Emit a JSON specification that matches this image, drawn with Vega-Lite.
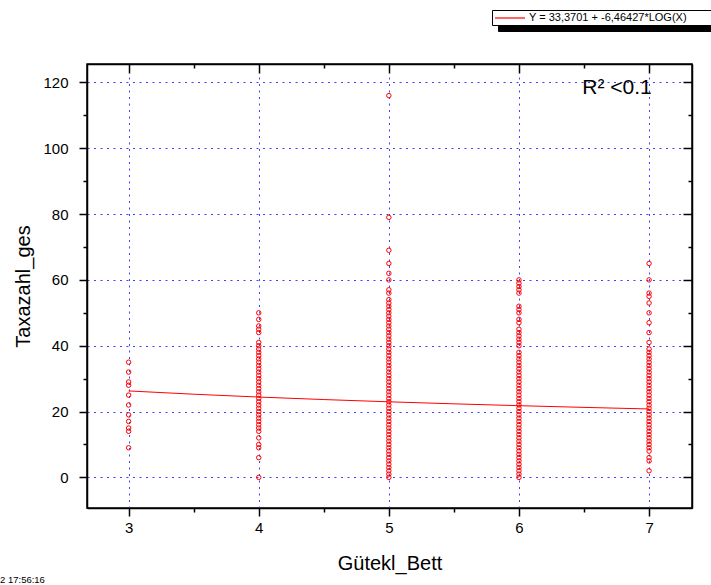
{
  "$schema": "https://vega.github.io/schema/vega-lite/v6.json",
  "width": 605,
  "height": 444,
  "autosize": {"type": "none"},
  "padding": {"left": 87, "top": 64, "right": 19, "bottom": 77},
  "background": "white",
  "title": {"text": "2  17:56:16", "orient": "bottom", "anchor": "start", "frame": "group", "fontSize": 9.5, "fontWeight": "normal", "font": "Liberation Sans", "color": "black", "dx": -87, "offset": 2},
  "config": {
    "font": "Liberation Sans",
    "view": {"stroke": "black", "strokeWidth": 1.5},
    "axis": {
      "labelFont": "Liberation Sans",
      "titleFont": "Liberation Sans",
      "labelColor": "black",
      "titleColor": "black",
      "titleFontWeight": "normal",
      "domainColor": "black",
      "domainWidth": 1.5,
      "tickColor": "black",
      "tickWidth": 1.5,
      "gridColor": "#4040ff",
      "gridDash": [2, 4.5],
      "gridWidth": 1
    }
  },
  "datasets": {
    "pts": [
      {"g":3,"t":35},{"g":3,"t":32},{"g":3,"t":29},{"g":3,"t":28},{"g":3,"t":25},{"g":3,"t":22},{"g":3,"t":19},{"g":3,"t":17},{"g":3,"t":15},{"g":3,"t":14},{"g":3,"t":9},
      {"g":4,"t":50},{"g":4,"t":48},{"g":4,"t":46},{"g":4,"t":45},{"g":4,"t":44},{"g":4,"t":41},
      {"g":4,"t":40},{"g":4,"t":39},{"g":4,"t":38},{"g":4,"t":37},{"g":4,"t":36},{"g":4,"t":35},{"g":4,"t":34},{"g":4,"t":33},{"g":4,"t":32},{"g":4,"t":31},{"g":4,"t":30},{"g":4,"t":29},{"g":4,"t":28},{"g":4,"t":27},{"g":4,"t":26},{"g":4,"t":25},{"g":4,"t":24},{"g":4,"t":23},{"g":4,"t":22},{"g":4,"t":21},{"g":4,"t":20},{"g":4,"t":19},{"g":4,"t":18},{"g":4,"t":17},{"g":4,"t":16},{"g":4,"t":15},{"g":4,"t":14},
      {"g":4,"t":12},{"g":4,"t":10},{"g":4,"t":9},{"g":4,"t":6},{"g":4,"t":0},
      {"g":5,"t":116},{"g":5,"t":79},{"g":5,"t":69},{"g":5,"t":65},{"g":5,"t":62},{"g":5,"t":60},{"g":5,"t":57},{"g":5,"t":56},{"g":5,"t":54},{"g":5,"t":53},{"g":5,"t":52},
      {"g":5,"t":51},{"g":5,"t":50},{"g":5,"t":49},{"g":5,"t":48},{"g":5,"t":47},{"g":5,"t":46},{"g":5,"t":45},{"g":5,"t":44},{"g":5,"t":43},{"g":5,"t":42},{"g":5,"t":41},{"g":5,"t":40},{"g":5,"t":39},{"g":5,"t":38},{"g":5,"t":37},{"g":5,"t":36},{"g":5,"t":35},{"g":5,"t":34},{"g":5,"t":33},{"g":5,"t":32},{"g":5,"t":31},{"g":5,"t":30},{"g":5,"t":29},{"g":5,"t":28},{"g":5,"t":27},{"g":5,"t":26},{"g":5,"t":25},{"g":5,"t":24},{"g":5,"t":23},{"g":5,"t":22},{"g":5,"t":21},{"g":5,"t":20},{"g":5,"t":19},{"g":5,"t":18},{"g":5,"t":17},{"g":5,"t":16},{"g":5,"t":15},{"g":5,"t":14},{"g":5,"t":13},{"g":5,"t":12},{"g":5,"t":11},{"g":5,"t":10},{"g":5,"t":9},{"g":5,"t":8},{"g":5,"t":7},{"g":5,"t":6},{"g":5,"t":5},{"g":5,"t":4},{"g":5,"t":3},{"g":5,"t":2},{"g":5,"t":1},{"g":5,"t":0},
      {"g":6,"t":60},{"g":6,"t":59},{"g":6,"t":58},{"g":6,"t":57},{"g":6,"t":56},{"g":6,"t":52},{"g":6,"t":51},{"g":6,"t":50},{"g":6,"t":48},{"g":6,"t":47},{"g":6,"t":45},{"g":6,"t":44},{"g":6,"t":43},{"g":6,"t":42},{"g":6,"t":41},{"g":6,"t":40},{"g":6,"t":38},
      {"g":6,"t":37},{"g":6,"t":36},{"g":6,"t":35},{"g":6,"t":34},{"g":6,"t":33},{"g":6,"t":32},{"g":6,"t":31},{"g":6,"t":30},{"g":6,"t":29},{"g":6,"t":28},{"g":6,"t":27},{"g":6,"t":26},{"g":6,"t":25},{"g":6,"t":24},{"g":6,"t":23},{"g":6,"t":22},{"g":6,"t":21},{"g":6,"t":20},{"g":6,"t":19},{"g":6,"t":18},{"g":6,"t":17},{"g":6,"t":16},{"g":6,"t":15},{"g":6,"t":14},{"g":6,"t":13},{"g":6,"t":12},{"g":6,"t":11},{"g":6,"t":10},{"g":6,"t":9},{"g":6,"t":8},{"g":6,"t":7},{"g":6,"t":6},{"g":6,"t":5},{"g":6,"t":4},{"g":6,"t":3},{"g":6,"t":2},{"g":6,"t":1},{"g":6,"t":0},
      {"g":7,"t":65},{"g":7,"t":60},{"g":7,"t":56},{"g":7,"t":55},{"g":7,"t":53},{"g":7,"t":50},{"g":7,"t":47},{"g":7,"t":44},{"g":7,"t":41},
      {"g":7,"t":39},{"g":7,"t":38},{"g":7,"t":37},{"g":7,"t":36},{"g":7,"t":35},{"g":7,"t":34},{"g":7,"t":33},{"g":7,"t":32},{"g":7,"t":31},{"g":7,"t":30},{"g":7,"t":29},{"g":7,"t":28},{"g":7,"t":27},{"g":7,"t":26},{"g":7,"t":25},{"g":7,"t":24},{"g":7,"t":23},{"g":7,"t":22},{"g":7,"t":21},{"g":7,"t":20},{"g":7,"t":19},{"g":7,"t":18},{"g":7,"t":17},{"g":7,"t":16},{"g":7,"t":15},{"g":7,"t":14},{"g":7,"t":13},{"g":7,"t":12},{"g":7,"t":11},{"g":7,"t":10},{"g":7,"t":9},{"g":7,"t":8},
      {"g":7,"t":6},{"g":7,"t":5},{"g":7,"t":2}
    ],
    "fit": [
      {"x":3,"y":26.2684},{"x":3.5,"y":25.2719},{"x":4,"y":24.4087},{"x":4.5,"y":23.6473},{"x":5,"y":22.9663},{"x":5.5,"y":22.3501},{"x":6,"y":21.7875},{"x":6.5,"y":21.2702},{"x":7,"y":20.7912}
    ]
  },
  "resolve": {"axis": {"x": "independent", "y": "independent"}},
  "layer": [
    {
      "data": {"name": "pts"},
      "mark": {"type": "point", "filled": false, "stroke": "#ff0000", "strokeWidth": 1, "size": 20, "opacity": 1},
      "encoding": {
        "x": {
          "field": "g", "type": "quantitative",
          "scale": {"domain": [2.68, 7.33], "nice": false, "zero": false},
          "axis": {
            "orient": "bottom",
            "values": [3, 3.5, 4, 4.5, 5, 5.5, 6, 6.5, 7],
            "labelExpr": "datum.value % 1 == 0 ? format(datum.value, 'd') : ''",
            "grid": true,
            "gridOpacity": {"condition": {"test": "datum.value % 1 != 0", "value": 0}, "value": 1},
            "tickSize": {"condition": {"test": "datum.value % 1 != 0", "value": 4}, "value": 8},
            "labelFontSize": 15,
            "labelPadding": 4,
            "title": "Gütekl_Bett",
            "titleFontSize": 20,
            "titlePadding": 18
          }
        },
        "y": {
          "field": "t", "type": "quantitative",
          "scale": {"domain": [-9.3, 125.6], "nice": false, "zero": false},
          "axis": {
            "orient": "left",
            "values": [0, 10, 20, 30, 40, 50, 60, 70, 80, 90, 100, 110, 120],
            "labelExpr": "datum.value % 20 == 0 ? datum.label : ''",
            "grid": true,
            "gridOpacity": {"condition": {"test": "datum.value % 20 != 0", "value": 0}, "value": 1},
            "tickSize": {"condition": {"test": "datum.value % 20 != 0", "value": 4}, "value": 8},
            "labelFontSize": 15,
            "labelPadding": 11,
            "title": "Taxazahl_ges",
            "titleFontSize": 20,
            "titlePadding": 9
          }
        },
        "shape": {
          "datum": "shadow",
          "type": "nominal",
          "scale": {"range": ["circle"]},
          "legend": {
            "orient": "none", "legendX": 411, "legendY": -48,
            "title": null,
            "labelExpr": "'Y = 33,3701 + -6,46427*LOG(X)\u00a0\u00a0\u00a0\u00a0\u00a0\u00a0\u00a0\u00a0\u00a0\u00a0\u00a0\u00a0\u200b'",
            "labelLimit": 400,
            "symbolType": "M-1,0H5", "symbolSize": 100, "symbolOpacity": 0, "symbolStrokeColor": "black",
            "labelFontSize": 11, "labelFont": "Liberation Sans", "labelColor": "black", "labelOffset": 23,
            "strokeColor": "black", "fillColor": "black", "padding": 2
          }
        }
      }
    },
    {
      "data": {"name": "fit"},
      "mark": {"type": "line", "strokeWidth": 1, "color": "#ff0000"},
      "encoding": {
        "x": {
          "field": "x", "type": "quantitative",
          "axis": {
            "orient": "top",
            "values": [3, 3.5, 4, 4.5, 5, 5.5, 6, 6.5, 7],
            "labels": false, "grid": false, "title": null,
            "tickSize": {"condition": {"test": "datum.value % 1 != 0", "value": -4}, "value": -9}
          }
        },
        "y": {
          "field": "y", "type": "quantitative",
          "axis": {
            "orient": "right",
            "values": [0, 10, 20, 30, 40, 50, 60, 70, 80, 90, 100, 110, 120],
            "labels": false, "grid": false, "title": null,
            "tickSize": {"condition": {"test": "datum.value % 20 != 0", "value": -4}, "value": -9}
          }
        },
        "color": {
          "datum": "Y = 33,3701 + -6,46427*LOG(X)\u00a0\u00a0\u00a0\u00a0\u00a0\u00a0\u00a0\u00a0\u00a0\u00a0\u00a0\u00a0\u200b",
          "type": "nominal",
          "scale": {"range": ["#ff0000"]},
          "legend": {
            "orient": "none", "legendX": 405, "legendY": -54,
            "title": null,
            "labelLimit": 400,
            "symbolType": "M-1,0H5", "symbolSize": 100, "symbolStrokeWidth": 1.2, "symbolStrokeColor": "#ff0000",
            "labelFontSize": 11, "labelFont": "Liberation Sans", "labelColor": "black", "labelOffset": 23,
            "strokeColor": "black", "fillColor": "white", "padding": 2,
            "encode": {"symbols": {"update": {"stroke": {"value": "#ff0000"}, "strokeWidth": {"value": 1.2}, "opacity": {"value": 1}}}}
          }
        }
      }
    },
    {
      "data": {"values": [{}]},
      "mark": {"type": "text", "align": "right", "baseline": "middle", "fontSize": 21, "font": "Liberation Sans", "color": "black"},
      "encoding": {
        "x": {"datum": 7.02, "type": "quantitative", "axis": null},
        "y": {"datum": 118.3, "type": "quantitative", "axis": null},
        "text": {"value": "R² <0.1"}
      }
    }
  ]
}
